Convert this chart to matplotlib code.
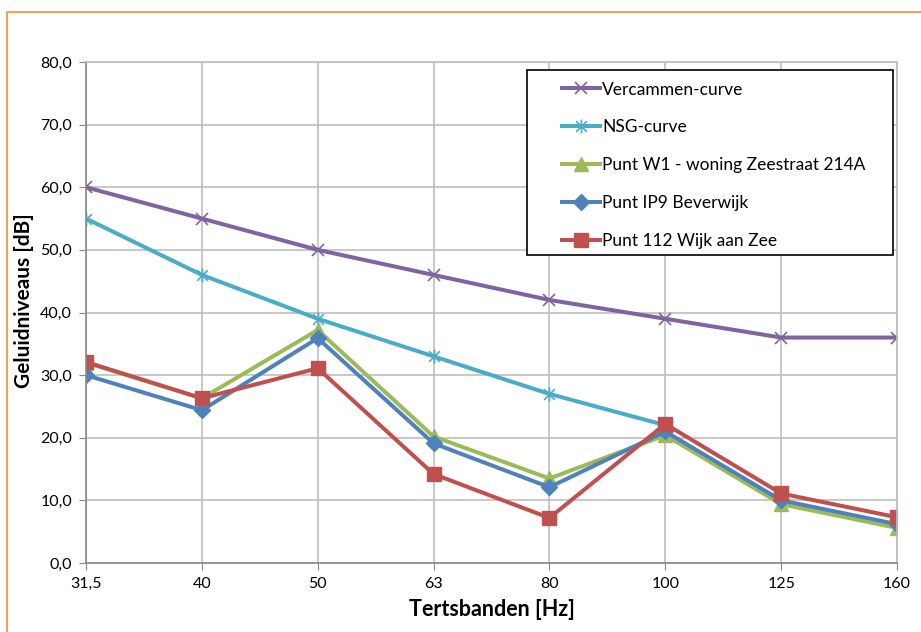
import matplotlib.pyplot as plt
from matplotlib.path import Path
from matplotlib.patches import Rectangle

plt.rcParams['font.family'] = ['Lato', 'DejaVu Sans']

# tertsbanden en niveaus (dB)
banden = ["31,5", "40", "50", "63", "80", "100", "125", "160"]
vercammen = [60.0, 55.0, 50.0, 46.0, 42.0, 39.0, 36.0, 36.0]
nsg = [55.0, 46.0, 39.0, 33.0, 27.0, 22.0]
punt_w1 = [32.0, 26.3, 37.2, 20.2, 13.5, 20.4, 9.4, 5.6]
punt_ip9 = [30.0, 24.4, 35.9, 19.1, 12.1, 21.0, 10.0, 6.2]
punt_112 = [32.1, 26.3, 31.1, 14.2, 7.2, 22.2, 11.1, 7.3]

# Excel-achtige ster: kruis met verticale lijn
star = Path([(-1, -1), (1, 1), (-1, 1), (1, -1), (0, -1.3), (0, 1.3)],
            [Path.MOVETO, Path.LINETO, Path.MOVETO, Path.LINETO, Path.MOVETO, Path.LINETO])

W, H = 921, 632
fig = plt.figure(figsize=(W / 100, H / 100), dpi=100)
fig.patches.append(Rectangle((7 / W, -0.1), 1.2, 1.1 - 12 / H,
                             transform=fig.transFigure, fill=False,
                             edgecolor="#F79646", linewidth=1.3))
ax = fig.add_axes([86 / W, 69 / H, 811 / W, 501 / H])

x = list(range(len(banden)))
lw = 2.9
ax.plot(x, vercammen, color="#8064A2", lw=lw, marker="x", ms=9, mew=1.2,
        label="Vercammen-curve")
ax.plot(x[:len(nsg)], nsg, color="#4BACC6", lw=lw, marker=star, ms=10, mew=1.2,
        label="NSG-curve")
ax.plot(x, punt_w1, color="#9BBB59", lw=lw, marker="^", ms=10,
        label="Punt W1 - woning Zeestraat 214A")
ax.plot(x, punt_ip9, color="#4F81BD", lw=lw, marker="D", ms=8,
        label="Punt IP9 Beverwijk")
ax.plot(x, punt_112, color="#C0504D", lw=lw, marker="s", ms=10,
        label="Punt 112 Wijk aan Zee")

ax.set_xlim(0, len(banden) - 1)
ax.set_ylim(0, 80)
ax.set_xticks(x)
ax.set_xticklabels(banden)
ax.set_yticks(range(0, 81, 10))
ax.set_yticklabels([f"{v},0" for v in range(0, 81, 10)])
ax.tick_params(labelsize=11.5, color="#888888", length=5, pad=5)
ax.grid(True, color="#BFBFBF", lw=1.2)
ax.set_axisbelow(True)
for s in ax.spines.values():
    s.set_color("#BFBFBF")
    s.set_linewidth(1.2)
ax.spines["left"].set_color("#888888")
ax.spines["bottom"].set_color("#888888")

ax.set_xlabel("Tertsbanden [Hz]", fontsize=15.5, fontweight="bold", labelpad=6)
ax.set_ylabel("Geluidniveaus [dB]", fontsize=15, fontweight="bold")
ax.yaxis.set_label_coords(-0.064, 0.523)

# legendakader los getekend (breder dan de inhoud, zoals in Excel)
ax.add_patch(Rectangle((527 / W, 1 - 255 / H), 366 / W, 185 / H,
                       transform=fig.transFigure, clip_on=False,
                       facecolor="white", edgecolor="black", lw=1.2, zorder=4.9))
leg = ax.legend(loc="upper left", bbox_to_anchor=(552 / W, 1 - 72 / H),
                bbox_transform=fig.transFigure, fontsize=12.5, frameon=False,
                labelspacing=1.26, borderpad=0.55, handlelength=2.2,
                handletextpad=0.15, borderaxespad=0)
leg.set_zorder(5)

fig.savefig("out.png", dpi=100)
